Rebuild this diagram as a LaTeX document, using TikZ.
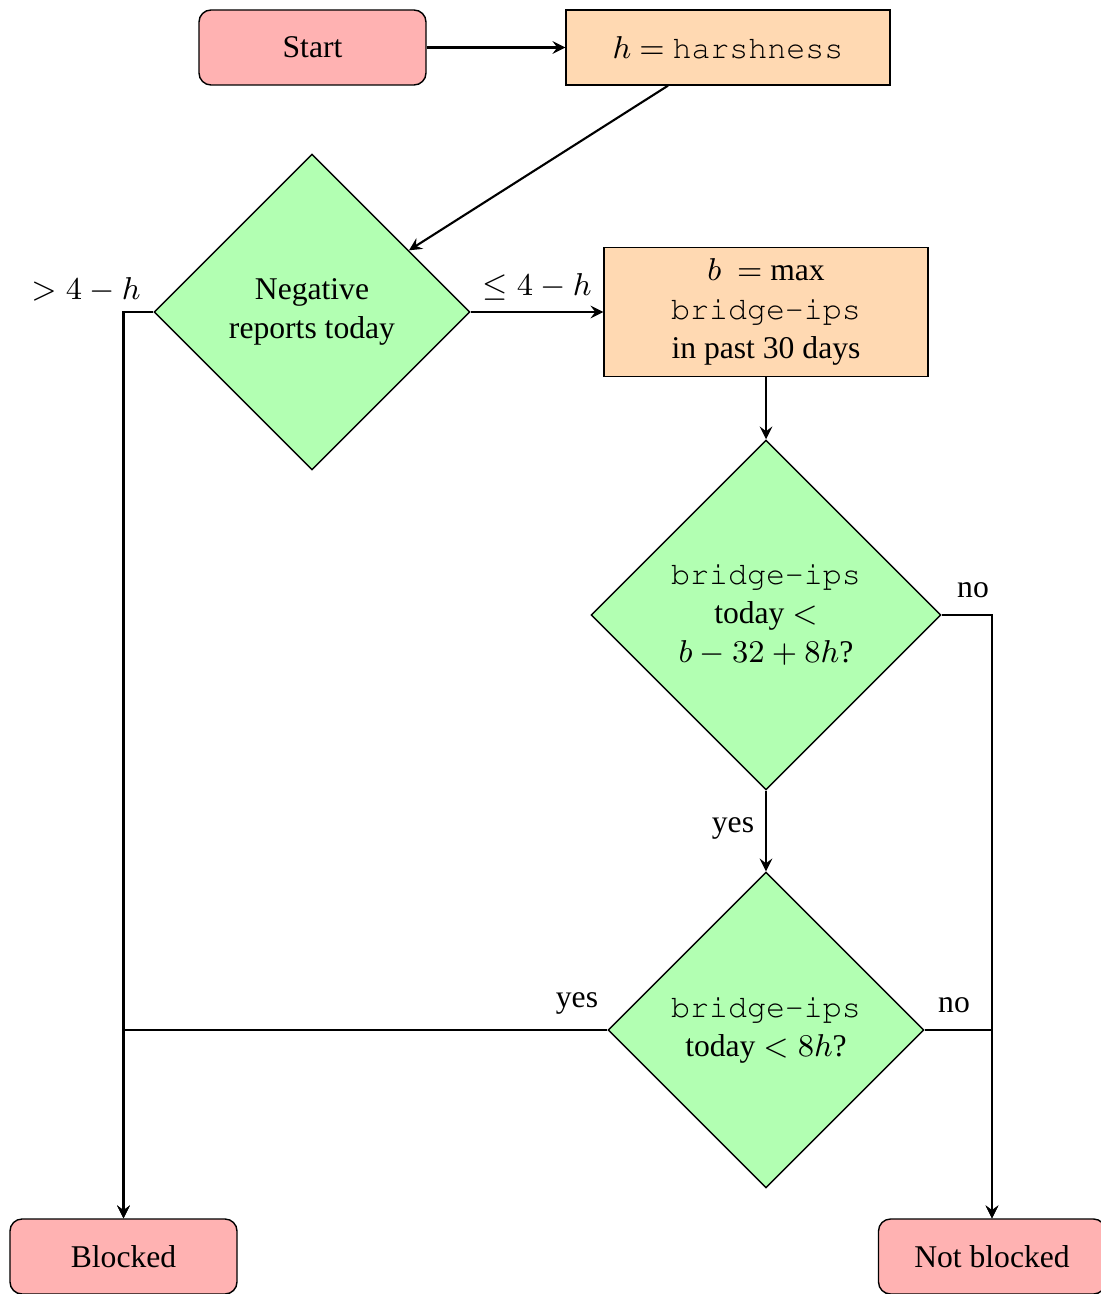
\documentclass[tikz,border=0pt]{standalone}
\usepackage[T1]{fontenc}
\usepackage[no-math]{fontspec}
\setmainfont{Liberation Serif}
\renewcommand{\ttdefault}{pcr}
\newcommand{\ident}[1]{{\fontencoding{T1}\fontfamily{pcr}\selectfont #1}}
\usetikzlibrary{shapes.geometric}

\begin{document}
\begin{tikzpicture}[
		font=\fontsize{9pt}{11pt}\selectfont,
		term/.style={draw,rounded corners=0.12cm,fill=red!30,minimum width=2.27cm,minimum height=0.75cm},
		proc/.style={draw,fill=orange!30,minimum width=3.24cm,align=center},
		decide/.style={draw,diamond,aspect=1,fill=green!30,align=center,inner sep=0pt},
		flow/.style={semithick,-stealth}]
		\useasboundingbox (0,0) rectangle (11.01,-12.94);
		% boxes
		\node[term] (start) at (3.125,-0.475) {Start};
		\node[proc,minimum height=0.75cm] (harsh) at (7.28,-0.475) {$h$ $=$ \ident{harshness}};
		\node[decide,minimum size=3.16cm] (neg) at (3.12,-3.12) {Negative\\reports today};
		\node[proc,minimum height=1.28cm] (bmax) at (7.66,-3.12) {$b$ \ $=$ max\\\ident{bridge-ips}\\in past 30 days};
		\node[decide,minimum size=3.5cm] (recent) at (7.66,-6.15) {\ident{bridge-ips}\\today $<$\\$b-32+8h$?};
		\node[decide,minimum size=3.16cm] (low) at (7.66,-10.30) {\ident{bridge-ips}\\today $<8h$?};
		\node[term] (blocked) at (1.235,-12.565) {Blocked};
		\node[term] (free) at (9.92,-12.565) {Not blocked};
		% edge labels
		\node (gt) at (0.86,-2.90) {$>4-h$};
		\node (le) at (5.37,-2.87) {$\leq 4-h$};
		\node (no1) at (9.73,-5.90) {no};
		\node (yes1) at (7.33,-8.28) {yes};
		\node (yes2) at (5.77,-10.03) {yes};
		\node (no2) at (9.54,-10.05) {no};
		% arrows
		\draw[flow] (start) -- (harsh);
		\draw[flow] (harsh) -- (neg);
		\draw[flow] (neg) -- (bmax);
		\draw[flow] (bmax) -- (recent);
		\draw[flow] (recent) -- (low);
		\draw[flow] (neg.west) -| (blocked);
		\draw[flow] (low.west) -| (blocked);
		\draw[flow] (recent.east) -| (free);
		\draw[flow] (low.east) -| (free);
\end{tikzpicture}
\end{document}
